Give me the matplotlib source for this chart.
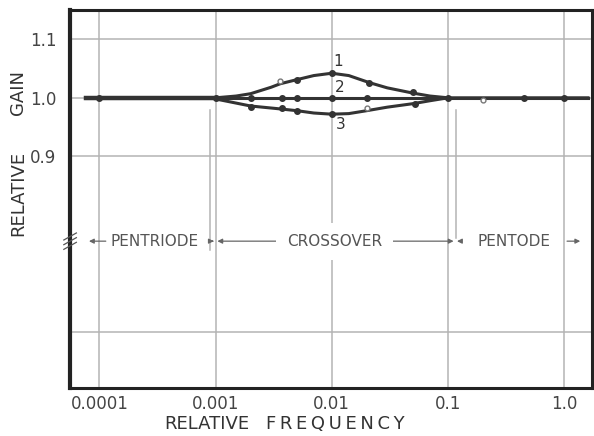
import numpy as np
import matplotlib
matplotlib.use('Agg')
import matplotlib.pyplot as plt

# curve traces (relative frequency, relative gain)
freq_1 = [7.6e-5, 0.0001, 0.001, 0.0015, 0.002, 0.003, 0.0036, 0.005, 0.007, 0.01, 0.014, 0.021, 0.03, 0.05, 0.07, 0.1, 0.2, 0.5, 1.0, 1.6]
gain_1 = [1.0, 1.0, 1.0, 1.003, 1.007, 1.018, 1.024, 1.031, 1.038, 1.042, 1.038, 1.026, 1.017, 1.008, 1.003, 1.0, 1.0, 1.0, 1.0, 1.0]
freq_2 = [7.6e-5, 0.0001, 0.001, 0.01, 0.1, 0.2, 0.5, 1.0, 1.6]
gain_2 = [1.0, 1.0, 1.0, 1.0, 1.0, 1.0, 1.0, 1.0, 1.0]
freq_3 = [0.001, 0.0015, 0.002, 0.0036, 0.005, 0.007, 0.01, 0.014, 0.02, 0.03, 0.05, 0.07, 0.1]
gain_3 = [0.998, 0.991, 0.986, 0.981, 0.978, 0.974, 0.972, 0.973, 0.978, 0.984, 0.99, 0.995, 1.0]

# measured points
dot_f1 = [0.005, 0.01, 0.021, 0.05]
dot_g1 = [1.031, 1.042, 1.025, 1.01]
dot_f2 = [0.0001, 0.001, 0.002, 0.0037, 0.005, 0.01, 0.02, 0.1, 0.45, 1.0]
dot_g2 = [1.0, 1.0, 1.0, 1.0, 1.0, 1.0, 1.0, 1.0, 1.0, 1.0]
dot_f3 = [0.002, 0.0037, 0.005, 0.01, 0.052]
dot_g3 = [0.985, 0.982, 0.978, 0.972, 0.989]
open_f = [0.0036, 0.02, 0.2]
open_g = [1.028, 0.983, 0.996]

x_ticks = [0.0001, 0.001, 0.01, 0.1, 1.0]
x_labels = ['0.0001', '0.001', '0.01', '0.1', '1.0']
y_ticks = [0.9, 1.0, 1.1]
y_labels = ['0.9', '1.0', '1.1']

ink = '#333333'
grid = '#b4b4b4'

fig = plt.figure(figsize=(5.94, 4.36), dpi=100)
ax = fig.add_axes([0.118, 0.110, 0.879, 0.867])
ax.set_xscale('log')
ax.set_xlim(5.6e-5, 1.74)
ax.set_ylim(0.504, 1.15)

for f in x_ticks:
    ax.axvline(f, color=grid, lw=1.1, zorder=1)
for g in [0.6, 0.9, 1.0, 1.1]:
    ax.axhline(g, color=grid, lw=1.1, zorder=1)

# region boundary marks
ax.plot([0.0009, 0.0009], [0.98, 0.74], color=grid, lw=1.1, zorder=1)
ax.plot([0.116, 0.116], [0.98, 0.76], color=grid, lw=1.1, zorder=1)

ax.plot(freq_1, gain_1, color=ink, lw=2.2, zorder=3)
ax.plot(freq_2, gain_2, color=ink, lw=2.2, zorder=3)
ax.plot(freq_3, gain_3, color=ink, lw=2.2, zorder=3)
ax.plot([7.6e-5, 0.001], [1.0, 1.0], color=ink, lw=3.2, zorder=3)
ax.plot(dot_f1, dot_g1, 'o', color=ink, ms=4, zorder=4)
ax.plot(dot_f2, dot_g2, 'o', color=ink, ms=4, zorder=4)
ax.plot(dot_f3, dot_g3, 'o', color=ink, ms=4, zorder=4)
ax.plot(open_f, open_g, 'o', mfc='white', mec='#777777', ms=3.5, mew=1, zorder=4)

ax.text(0.0104, 1.062, '1', color=ink, fontsize=11, ha='left', va='center', zorder=5)
ax.text(0.0107, 1.018, '2', color=ink, fontsize=11, ha='left', va='center', zorder=5)
ax.text(0.0108, 0.955, '3', color=ink, fontsize=11, ha='left', va='center', zorder=5)

# region labels with arrows
y_reg = 0.755
arr = dict(arrowstyle='-|>', color='#666666', lw=0.9, mutation_scale=7)
ax.annotate('', xy=(7.7e-5, y_reg), xytext=(1.2e-4, y_reg), arrowprops=arr, zorder=2)
ax.text(0.0003, y_reg, 'PENTRIODE', color='#555555', fontsize=11, ha='center', va='center', zorder=5)
ax.annotate('', xy=(0.00102, y_reg), xytext=(0.00088, y_reg), arrowprops=arr, zorder=2)
ax.annotate('', xy=(0.00098, y_reg), xytext=(0.0044, y_reg), arrowprops=arr, zorder=2)
ax.text(0.0105, y_reg, 'CROSSOVER', color='#555555', fontsize=11, ha='center', va='center', zorder=5,
        bbox=dict(facecolor='white', edgecolor='none', pad=8))
ax.annotate('', xy=(0.118, y_reg), xytext=(0.026, y_reg), arrowprops=arr, zorder=2)
ax.annotate('', xy=(0.113, y_reg), xytext=(0.135, y_reg), arrowprops=arr, zorder=2)
ax.text(0.37, y_reg, 'PENTODE', color='#555555', fontsize=11, ha='center', va='center', zorder=5,
        bbox=dict(facecolor='white', edgecolor='none', pad=1))
ax.annotate('', xy=(1.45, y_reg), xytext=(1.0, y_reg), arrowprops=arr, zorder=2)

# axis break marks
for dy in [-0.008, 0.0, 0.008]:
    ax.plot([-0.012, 0.012], [y_reg + dy - 0.006, y_reg + dy + 0.006], color='#555555', lw=0.9,
            transform=ax.get_yaxis_transform(), clip_on=False, zorder=6)

ax.set_xticks(x_ticks)
ax.set_xticklabels(x_labels)
ax.set_yticks(y_ticks)
ax.set_yticklabels(y_labels)
ax.minorticks_off()
ax.tick_params(length=0, labelsize=12, labelcolor='#444444', pad=5)
ax.tick_params(axis='y', pad=10)

for s in ax.spines.values():
    s.set_color('#222222')
    s.set_linewidth(2.2)
ax.spines['left'].set_linewidth(3)

fig.text(0.349, 0.028, 'RELATIVE', fontsize=13, color='#333333', ha='center', va='center')
fig.text(0.565, 0.028, 'F\u2009R\u2009E\u2009Q\u2009U\u2009E\u2009N\u2009C\u2009Y', fontsize=13, color='#333333',
         ha='center', va='center')
fig.text(0.03, 0.557, 'RELATIVE', fontsize=13, color='#333333', rotation=90, ha='center', va='center')
fig.text(0.03, 0.787, 'GAIN', fontsize=13, color='#333333', rotation=90, ha='center', va='center')

fig.savefig('out.png', dpi=100)
